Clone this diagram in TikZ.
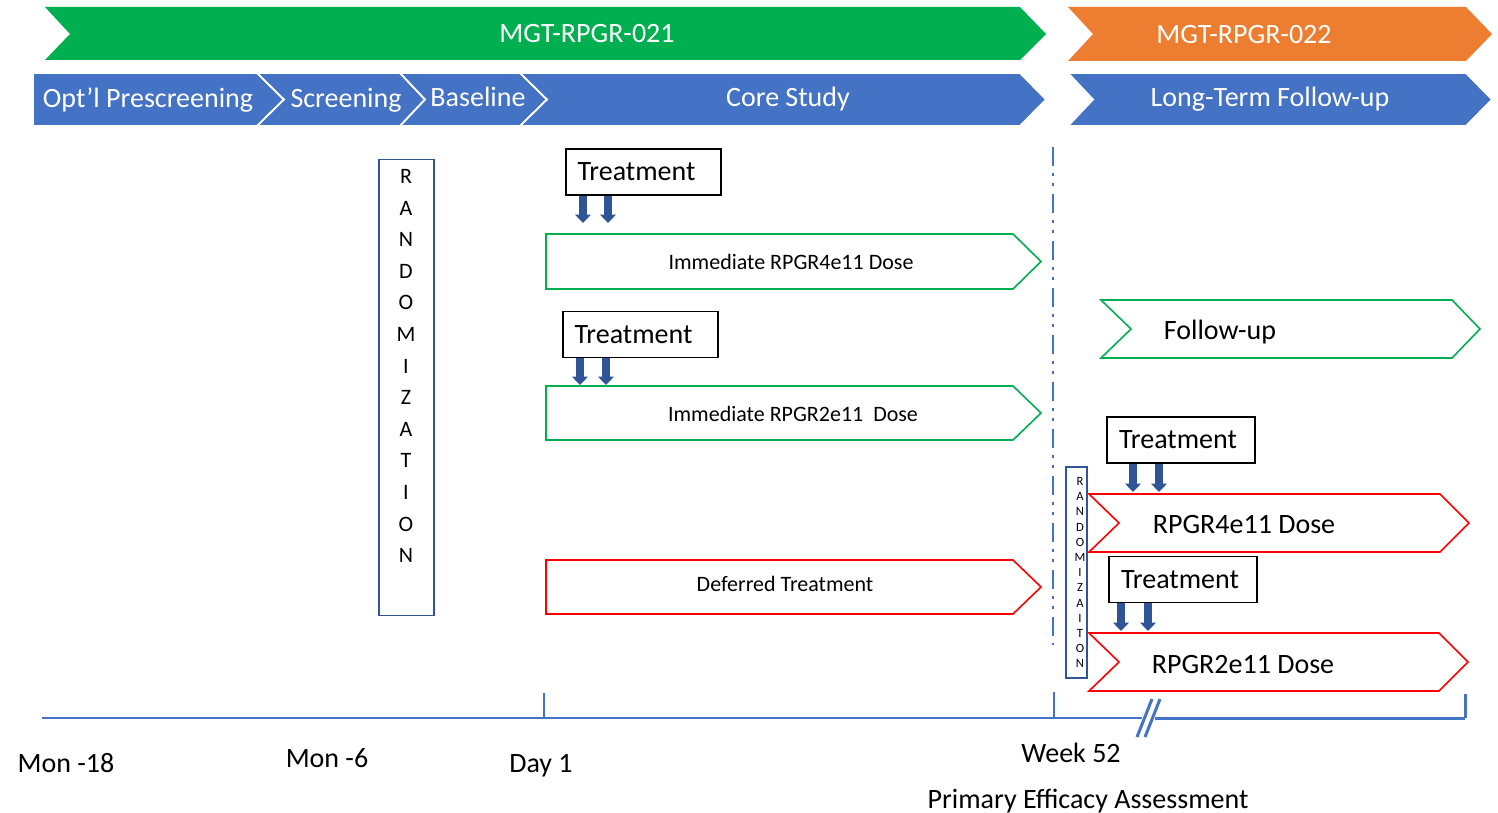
\documentclass[tikz,border=0pt]{standalone}
\usepackage{fontspec}
\setmainfont{Carlito}
\usetikzlibrary{arrows.meta}
\definecolor{pgreen}{HTML}{00B050}
\definecolor{porange}{HTML}{ED7D31}
\definecolor{pblue}{HTML}{4472C4}
\definecolor{parrow}{HTML}{2F5597}
\definecolor{pred}{HTML}{FF0000}
\definecolor{prand}{HTML}{2F5597}
\begin{document}
\begin{tikzpicture}[x=0.5pt,y=-0.5pt,
  bigtxt/.style={font=\fontsize{14}{17}\selectfont, inner sep=0pt, anchor=base},
  midtxt/.style={font=\fontsize{11}{13}\selectfont, inner sep=0pt, anchor=base},
  wtxt/.style={bigtxt, text=white},
  barblue/.style={fill=pblue, draw=white, line width=0.9pt, line join=miter},
  outl/.style={fill=white, line width=0.8pt, line join=miter},
  treat/.style={draw=black, line width=0.8pt, fill=white, font=\fontsize{14}{17}\selectfont, minimum height=23pt, text width=66pt, inner xsep=5.75pt, inner ysep=0pt, align=left},
  blk/.style={draw=parrow, line width=3.8pt, -{Triangle[width=7.8pt,length=4.2pt]}},
  randbox/.style={draw=prand, line width=0.8pt, inner sep=0pt},
  tl/.style={draw=pblue, line width=1pt}]
\useasboundingbox (0,0) rectangle (1498,813);

% top study bars
\fill[pgreen] (45,7) -- (1020,7) -- (1046,34) -- (1020,60) -- (45,60) -- (70,34) -- cycle;
\node[wtxt] (s21) at (587,43) {MGT-RPGR-021};
\fill[porange] (1068,7) -- (1466,7) -- (1492,34) -- (1466,61) -- (1068,61) -- (1093,34) -- cycle;
\node[wtxt] (s22) at (1244,44) {MGT-RPGR-022};

% phase bars
\path[barblue] (33,73) -- (257,73) -- (284,99.5) -- (257,126) -- (33,126) -- cycle;
\path[barblue] (257,73) -- (400,73) -- (425,99.5) -- (400,126) -- (257,126) -- (284,99.5) -- cycle;
\path[barblue] (400,73) -- (520,73) -- (547,99.5) -- (520,126) -- (400,126) -- (425,99.5) -- cycle;
\path[barblue] (520,73) -- (1020,73) -- (1046,99.5) -- (1020,126) -- (520,126) -- (547,99.5) -- cycle;
\path[barblue] (1068,73) -- (1466,73) -- (1492,99.5) -- (1466,126) -- (1068,126) -- (1093,99.5) -- cycle;
\node[wtxt] (p1) at (148,107) {Opt’l Prescreening};
\node[wtxt] (p2) at (346,107) {Screening};
\node[wtxt] (p3) at (478,106) {Baseline};
\node[wtxt] (p4) at (788,106) {Core Study};
\node[wtxt] (p5) at (1270,106) {Long-Term Follow-up};

% randomization (large)
\node[randbox, minimum width=27.5pt, minimum height=228pt] (r1) at (406.5,387.5) {};
\node[font=\fontsize{11}{15.8}\selectfont, align=center, inner sep=0pt, anchor=north] (r1txt) at (406,169)
  {R\\A\\N\\D\\O\\M\\I\\Z\\A\\T\\I\\O\\N};

% core study arms
\path[outl, draw=pgreen] (546,234) -- (1013,234) -- (1041,261.5) -- (1013,289) -- (546,289) -- cycle;
\node[midtxt] (d1) at (791,269) {Immediate RPGR4e11 Dose};
\path[outl, draw=pgreen] (546,386) -- (1013,386) -- (1041,413) -- (1013,440) -- (546,440) -- cycle;
\node[midtxt] (d2) at (793,421) {Immediate RPGR2e11\ \ Dose};
\path[outl, draw=pred] (546,560) -- (1013,560) -- (1041,587) -- (1013,614) -- (546,614) -- cycle;
\node[midtxt] (d3) at (785,591) {Deferred Treatment};

% treatment boxes
\node[treat] (t1) at (643.5,172) {Treatment};
\node[treat] (t2) at (640.5,334.5) {Treatment};
\coordinate (a1) at (583,223);
\coordinate (a2) at (608,223);
\coordinate (a3) at (580,385);
\coordinate (a4) at (606,385);
\draw[blk] (t1.south -| a1) -- (a1);
\draw[blk] (t1.south -| a2) -- (a2);
\draw[blk] (t2.south -| a3) -- (a3);
\draw[blk] (t2.south -| a4) -- (a4);

% week 52 divider
\coordinate (vtop) at (1053,147);
\coordinate (vbot) at (1053,645);
\draw[pblue, line width=1pt, dash pattern=on 9.5pt off 3.5pt on 1.5pt off 3.5pt on 1.5pt off 4pt] (vtop) -- (vbot);

% long-term follow-up arms
\path[outl, draw=pgreen] (1101,300) -- (1452,300) -- (1480,329) -- (1452,358) -- (1101,358) -- (1131,329) -- cycle;
\node[bigtxt] (f1) at (1220,339) {Follow-up};
\path[outl, draw=pred] (1089,494) -- (1440,494) -- (1469,523) -- (1440,552) -- (1089,552) -- (1119,523) -- cycle;
\node[bigtxt] (f2) at (1244,533) {RPGR4e11 Dose};
\path[outl, draw=pred] (1089,633) -- (1439,633) -- (1468,662) -- (1439,691) -- (1089,691) -- (1119,662) -- cycle;
\node[bigtxt] (f3) at (1243,673) {RPGR2e11 Dose};

% randomization (small)
\node[randbox, minimum width=10.5pt, minimum height=105.5pt] (r2) at (1076.5,572.5) {};
\node[font=\fontsize{6.3}{7.6}\selectfont, align=center, inner sep=0pt, anchor=north] (r2txt) at (1080,477)
  {R\\A\\N\\D\\O\\M\\I\\Z\\A\\I\\T\\O\\N};

\node[treat, text width=62pt, inner xsep=6pt] (t3) at (1181,440) {Treatment};
\node[treat, text width=62pt, inner xsep=6pt] (t4) at (1183,579.5) {Treatment};
\coordinate (a5) at (1133,492);
\coordinate (a6) at (1159,492);
\coordinate (a7) at (1121,631);
\coordinate (a8) at (1148,631);
\draw[blk] (t3.south -| a5) -- (a5);
\draw[blk] (t3.south -| a6) -- (a6);
\draw[blk] (t4.south -| a7) -- (a7);
\draw[blk] (t4.south -| a8) -- (a8);

% timeline
\coordinate (tl0) at (42,718);
\coordinate (tlb1) at (1142,718);
\coordinate (tlb2) at (1155,718);
\coordinate (tl1) at (1465,718);
\draw[tl] (tl0) -- (tlb1);
\draw[tl, line width=1.5pt] (tlb2) -- (tl1);
\draw[tl, line width=1.5pt] (tl1) -- ++(0,-24);
\draw[tl] (544,718) -- (544,693);
\draw[tl] (1054,718) -- (1054,692);
\draw[tl, line width=1.5pt] (1137,737) -- (1152,699);
\draw[tl, line width=1.5pt] (1145,737) -- (1160,699);

\node[bigtxt] (l1) at (66,772) {Mon -18};
\node[bigtxt] (l2) at (327,767) {Mon -6};
\node[bigtxt] (l3) at (541,772) {Day 1};
\node[bigtxt] (l4) at (1071,762) {Week 52};
\node[bigtxt] (l5) at (1088,808) {Primary Efficacy Assessment};
\end{tikzpicture}
\end{document}
